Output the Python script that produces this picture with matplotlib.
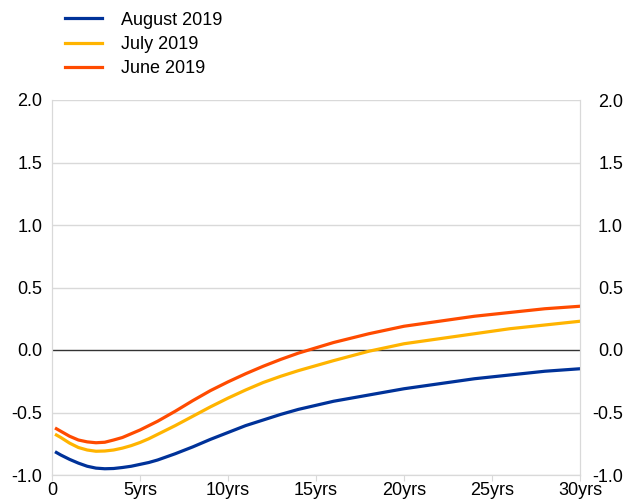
import matplotlib
matplotlib.use('Agg')
import matplotlib.pyplot as plt

# Maturity (years) and curve values
maturity = [0.25, 0.5, 1, 1.5, 2, 2.5, 3, 3.5, 4, 4.5, 5, 5.5, 6, 7, 8, 9, 10, 11, 12, 13, 14,
            16, 18, 20, 22, 24, 26, 28, 30]
june_2019 = [-0.63, -0.65, -0.69, -0.72, -0.735, -0.742, -0.738, -0.72, -0.70, -0.67, -0.64,
             -0.605, -0.57, -0.49, -0.405, -0.325, -0.255, -0.19, -0.13, -0.075, -0.025,
             0.06, 0.13, 0.19, 0.23, 0.27, 0.30, 0.33, 0.35]
july_2019 = [-0.68, -0.70, -0.745, -0.78, -0.80, -0.81, -0.808, -0.80, -0.785, -0.765, -0.74,
             -0.71, -0.675, -0.605, -0.53, -0.455, -0.385, -0.32, -0.26, -0.21, -0.165,
             -0.085, -0.01, 0.05, 0.09, 0.13, 0.17, 0.20, 0.23]
august_2019 = [-0.82, -0.84, -0.875, -0.905, -0.93, -0.945, -0.95, -0.948, -0.94, -0.93, -0.915,
               -0.90, -0.88, -0.83, -0.775, -0.715, -0.66, -0.605, -0.56, -0.515, -0.475,
               -0.41, -0.36, -0.31, -0.27, -0.23, -0.20, -0.17, -0.15]

x_ticks = [0, 5, 10, 15, 20, 25, 30]
x_labels = ['0', '5yrs', '10yrs', '15yrs', '20yrs', '25yrs', '30yrs']
y_ticks = [-1.0, -0.5, 0.0, 0.5, 1.0, 1.5, 2.0]
y_labels = [f'{v:.1f}' for v in y_ticks]

plt.rcParams['font.family'] = ['Liberation Sans', 'DejaVu Sans']

fig = plt.figure(figsize=(6.25, 4.99), dpi=100)
ax = fig.add_axes([52 / 625, 24 / 499, 528 / 625, 375 / 499])

grid_col = '#d9d9d9'
for y in y_ticks:
    if y != 0.0:
        ax.axhline(y, color=grid_col, lw=1, zorder=0)
ax.axhline(0.0, color='#333333', lw=1, zorder=1)

l1, = ax.plot(maturity, august_2019, color='#003299', lw=2.3, label='August 2019', zorder=3)
l2, = ax.plot(maturity, july_2019, color='#ffb400', lw=2.3, label='July 2019', zorder=3)
l3, = ax.plot(maturity, june_2019, color='#ff4b00', lw=2.3, label='June 2019', zorder=3)

ax.set_xlim(0, 30)
ax.set_ylim(-1.0, 2.0)
ax.set_xticks(x_ticks)
ax.set_xticklabels(x_labels)
ax.set_yticks(y_ticks)
ax.set_yticklabels(y_labels)
ax.tick_params(axis='x', length=4, color=grid_col, labelsize=13, pad=1)
ax.tick_params(axis='y', length=0, labelsize=13, pad=7)

# right-hand axis labels, same scale, right-aligned near the figure edge
ax2 = ax.twinx()
ax2.set_ylim(ax.get_ylim())
ax2.set_yticks(y_ticks)
ax2.set_yticklabels(y_labels, ha='right')
ax2.tick_params(axis='y', length=0, labelsize=13, pad=31)

for a in (ax, ax2):
    for side in ['left', 'right', 'bottom']:
        a.spines[side].set_color(grid_col)
    a.spines['top'].set_visible(False)

fig.legend(handles=[l1, l2, l3], loc='upper left', bbox_to_anchor=(0.085, 1.0),
           frameon=False, fontsize=13, handlelength=2.05, handletextpad=1.05,
           labelspacing=0.4, borderaxespad=0.25)

fig.savefig('out.png', dpi=100)
